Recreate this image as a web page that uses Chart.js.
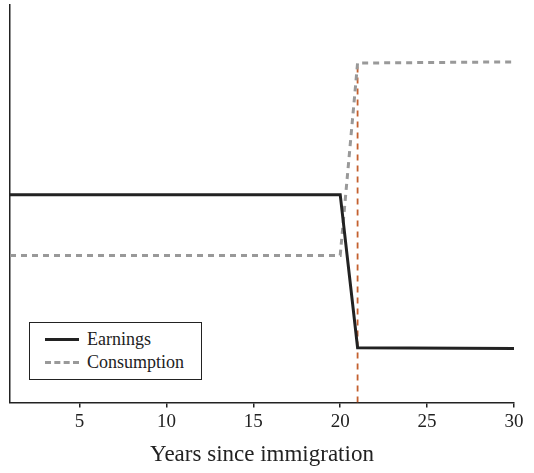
<!DOCTYPE html>
<html>
<head>
<meta charset="utf-8">
<script src="https://cdn.jsdelivr.net/npm/chart.js@4"></script>
<style>
  body { margin: 0; background: #fff; }
  #wrap { position: relative; width: 534px; height: 473px; }
  #legend {
    position: absolute; left: 29px; top: 322px; width: 173px; height: 58px;
    border: 1px solid #222; box-sizing: border-box; background: #fff;
    font-family: "Liberation Serif", serif; font-size: 18px; color: #222;
    padding-top: 5px;
  }
  #legend .item { display: flex; align-items: center; height: 23px; }
  #legend .swatch { width: 34px; margin-left: 15px; margin-right: 8px; border-top: 3px solid #222; }
</style>
</head>
<body>
<div id="wrap">
  <canvas id="chart" width="534" height="473"></canvas>
  <div id="legend"></div>
</div>
<script>
// 데이터
const years = [1, 20, 21, 30];
const earnings = [52.3, 52.3, 13.8, 13.6];
const consumption = [37, 37, 85.4, 85.7];
const returnYear = 21;
const returnLine = [0, 85.4];
const xTicks = [5, 10, 15, 20, 25, 30];

function toPoints(xs, ys) {
    return xs.map((x, i) => ({ x: x, y: ys[i] }));
}

const ctx = document.getElementById('chart');

const chart = new Chart(ctx, {
    type: 'line',
    data: {
        datasets: [{
            label: 'Earnings',
            data: toPoints(years, earnings),
            borderColor: '#222',
            borderWidth: 3,
            pointRadius: 0
        }, {
            label: 'Consumption',
            data: toPoints(years, consumption),
            borderColor: '#999',
            borderWidth: 3,
            borderDash: [6, 5],
            pointRadius: 0
        }, {
            label: 'return',
            data: returnLine.map(v => ({ x: returnYear, y: v })),
            borderColor: '#c4602f',
            borderWidth: 1.8,
            borderDash: [6, 5],
            pointRadius: 0
        }]
    },
    options: {
        responsive: false,
        animation: false,
        layout: { padding: { left: 2, right: 20, top: 5, bottom: 0 } },
        plugins: { legend: { display: false }, tooltip: { enabled: false } },
        scales: {
            x: {
                type: 'linear',
                min: 1,
                max: 30,
                afterBuildTicks: axis => { axis.ticks = xTicks.map(v => ({ value: v })); },
                border: { color: '#222', width: 1.5 },
                grid: { drawOnChartArea: false, drawTicks: true, tickLength: 5, color: '#222', lineWidth: 1.5 },
                ticks: { color: '#222', padding: 3, font: { family: 'Liberation Serif', size: 19 } },
                title: {
                    display: true,
                    text: 'Years since immigration',
                    color: '#222',
                    padding: { top: 5, bottom: 4 },
                    font: { family: 'Liberation Serif', size: 23 }
                }
            },
            y: {
                min: 0,
                max: 100,
                border: { color: '#222', width: 1.5 },
                grid: { display: false },
                ticks: { display: false }
            }
        }
    }
});

// 범례 만들기
const legend = document.getElementById('legend');
chart.data.datasets.slice(0, 2).forEach(ds => {
    const item = document.createElement('div');
    item.className = 'item';
    const sw = document.createElement('span');
    sw.className = 'swatch';
    sw.style.borderTopColor = ds.borderColor;
    if (ds.borderDash) sw.style.borderTopStyle = 'dashed';
    const txt = document.createElement('span');
    txt.textContent = ds.label;
    item.appendChild(sw);
    item.appendChild(txt);
    legend.appendChild(item);
});
</script>
</body>
</html>
